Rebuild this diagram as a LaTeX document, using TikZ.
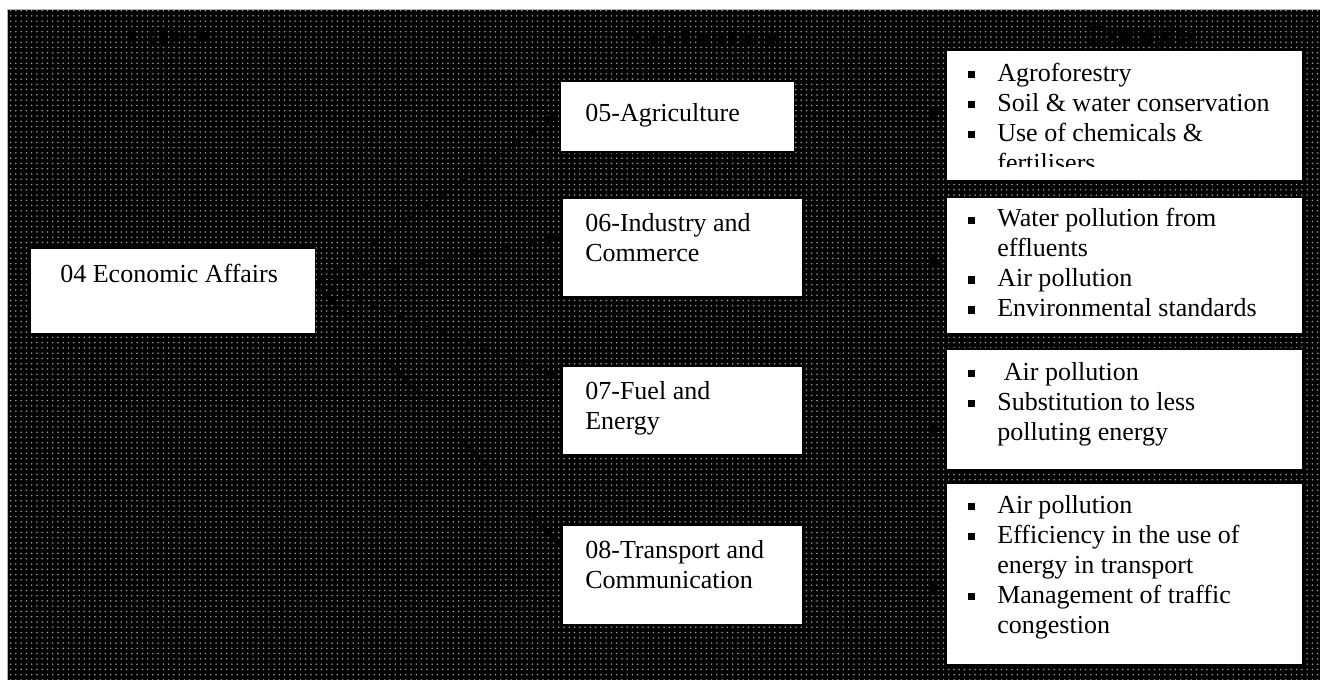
\documentclass[tikz,border=0pt]{standalone}
\usepackage{fontspec}
\setmainfont{Liberation Serif}
\usetikzlibrary{arrows.meta,patterns}
\newcommand{\bul}{\makebox[0.58cm][l]{\rule[1.7pt]{4pt}{4pt}}}
\newcommand{\cont}{\hspace*{0.58cm}}

\begin{document}
\begin{tikzpicture}[x=0.02cm,y=-0.02cm,
    box/.style={draw=black,fill=white,line width=0.6pt,inner sep=0pt,outer sep=0pt,anchor=north west},
    txt/.style={anchor=base west,align=left,inner sep=0pt,font=\fontsize{14.8}{17.07}\selectfont},
    head/.style={font=\fontsize{14.8}{17.07}\selectfont\bfseries,text=black,inner sep=0pt},
    arr/.style={line width=0.8pt,-{Latex[length=3mm,width=2.2mm]}}]
    \useasboundingbox (0,0) rectangle (1320,680);
    % dotted dark background
    \fill[black] (7,9) rectangle (1320,680);
    \fill[pattern=dots,pattern color=gray!80] (7,9) rectangle (1320,680);
    \draw[gray!60,line width=0.5pt] (7,680) -- (7,9) -- (1320,9);
    % column heads
    \node[head] (h-cofog) at (176,37) {COFOG};
    \node[head] (h-sub) at (706,37) {Sub-functions};
    \node[head] (h-ex) at (1143,37) {Examples};
    % boxes
    \node[box,minimum width=5.72cm,minimum height=1.72cm] (econ) at (30,248) {};
    \node[box,minimum width=4.70cm,minimum height=1.42cm] (agri) at (560,81) {};
    \node[box,minimum width=4.82cm,minimum height=1.98cm] (indus) at (562,198) {};
    \node[box,minimum width=4.82cm,minimum height=1.78cm] (fuel) at (562,366) {};
    \node[box,minimum width=4.82cm,minimum height=2.00cm] (trans) at (562,525) {};
    \node[box,minimum width=7.14cm,minimum height=2.62cm] (ex1) at (946,50) {};
    \node[box,minimum width=7.14cm,minimum height=2.74cm] (ex2) at (946,197) {};
    \node[box,minimum width=7.14cm,minimum height=2.42cm] (ex3) at (946,349) {};
    \node[box,minimum width=7.14cm,minimum height=3.64cm] (ex4) at (946,483) {};
    % texts (base = last line)
    \node[txt] (econ-txt) at (60,282) {04 Economic Affairs};
    \node[txt] (agri-txt) at (585,121) {05-Agriculture};
    \node[txt] (indus-txt) at (585,261) {06-Industry and\\Commerce};
    \node[txt] (fuel-txt) at (585,429) {07-Fuel and\\Energy};
    \node[txt] (trans-txt) at (585,588) {08-Transport and\\Communication};
    \begin{scope}
        \clip (946,50) rectangle (1303,166);
        \node[txt] (ex1-txt) at (968,171) {\bul Agroforestry\\\bul Soil \& water conservation\\\bul Use of chemicals \&\\\cont fertilisers};
    \end{scope}
    \node[txt] (ex2-txt) at (968,316.5) {\bul Water pollution from\\\cont effluents\\\bul Air pollution\\\bul Environmental standards};
    \node[txt] (ex3-txt) at (968,440) {\bul\ Air pollution\\\bul Substitution to less\\\cont polluting energy};
    \node[txt] (ex4-txt) at (968,633) {\bul Air pollution\\\bul Efficiency in the use of\\\cont energy in transport\\\bul Management of traffic\\\cont congestion};
    % connectors
    \draw[arr] (econ.3) -- (agri.178);
    \draw[arr] (econ.3) -- (indus.175);
    \draw[arr] (econ.3) -- (fuel.165);
    \draw[arr] (econ.3) -- (trans.167);
    \draw[arr] (agri.2) -- (agri.2 -| ex1.west);
    \draw[arr] (indus.-7) -- (indus.-7 -| ex2.west);
    \draw[arr] (fuel.-9) -- (fuel.-9 -| ex3.west);
    \draw[arr] (trans.-6) -- (trans.-6 -| ex4.west);
\end{tikzpicture}
\end{document}
